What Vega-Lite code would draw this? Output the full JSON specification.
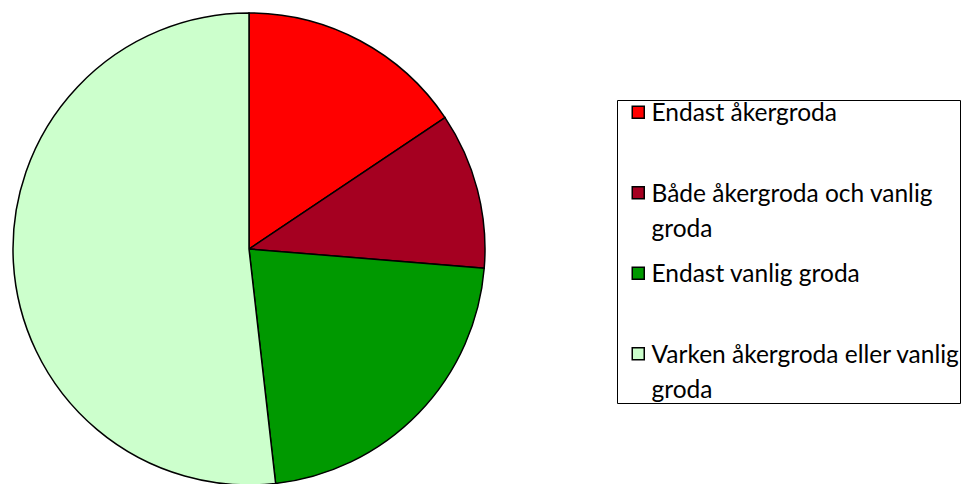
{
  "$schema": "https://vega.github.io/schema/vega-lite/v6.json",
  "autosize": "none",
  "width": 498,
  "height": 498,
  "padding": {"left": 0, "top": 0, "right": 470, "bottom": 0},
  "background": "white",
  "data": {
    "values": [
      {"kategori": "Endast åkergroda", "andel": 15.6, "ordning": 1},
      {"kategori": "Både åkergroda och vanlig groda", "andel": 10.7, "ordning": 2},
      {"kategori": "Endast vanlig groda", "andel": 21.9, "ordning": 3},
      {"kategori": "Varken åkergroda eller vanlig groda", "andel": 51.8, "ordning": 4}
    ]
  },
  "mark": {"type": "arc", "outerRadius": 236, "stroke": "black", "strokeWidth": 1.5},
  "encoding": {
    "theta": {"field": "andel", "type": "quantitative", "stack": true},
    "order": {"field": "ordning", "type": "quantitative"},
    "color": {
      "field": "kategori",
      "type": "nominal",
      "sort": ["Endast åkergroda", "Både åkergroda och vanlig groda", "Endast vanlig groda", "Varken åkergroda eller vanlig groda"],
      "scale": {
        "domain": ["Endast åkergroda", "Både åkergroda och vanlig groda", "Endast vanlig groda", "Varken åkergroda eller vanlig groda"],
        "range": ["#FF0000", "#A50021", "#009900", "#CCFFCC"]
      },
      "legend": {
        "title": null,
        "orient": "none",
        "legendX": 617,
        "legendY": 100,
        "padding": 0,
        "strokeColor": "black",
        "fillColor": "white",
        "symbolType": "square",
        "symbolSize": 144,
        "symbolStrokeColor": "black",
        "symbolStrokeWidth": 1.5,
        "symbolOffset": 9,
        "labelOffset": 1,
        "labelFont": "Lato",
        "labelFontSize": 24.5,
        "labelColor": "black",
        "labelLimit": 0,
        "labelBaseline": "alphabetic",
        "gridAlign": "all",
        "rowPadding": 19.5,
        "labelExpr": "datum.label == 'Både åkergroda och vanlig groda' ? ['Både åkergroda och vanlig', 'groda'] : datum.label == 'Varken åkergroda eller vanlig groda' ? ['Varken åkergroda eller vanlig', 'groda'] : datum.label",
        "encode": {
          "legend": {"update": {"width": {"value": 370}, "height": {"value": 310}}},
          "labels": {"update": {"dy": {"value": 9}, "lineHeight": {"value": 35}}}
        }
      }
    }
  },
  "config": {"view": {"stroke": null}}
}
